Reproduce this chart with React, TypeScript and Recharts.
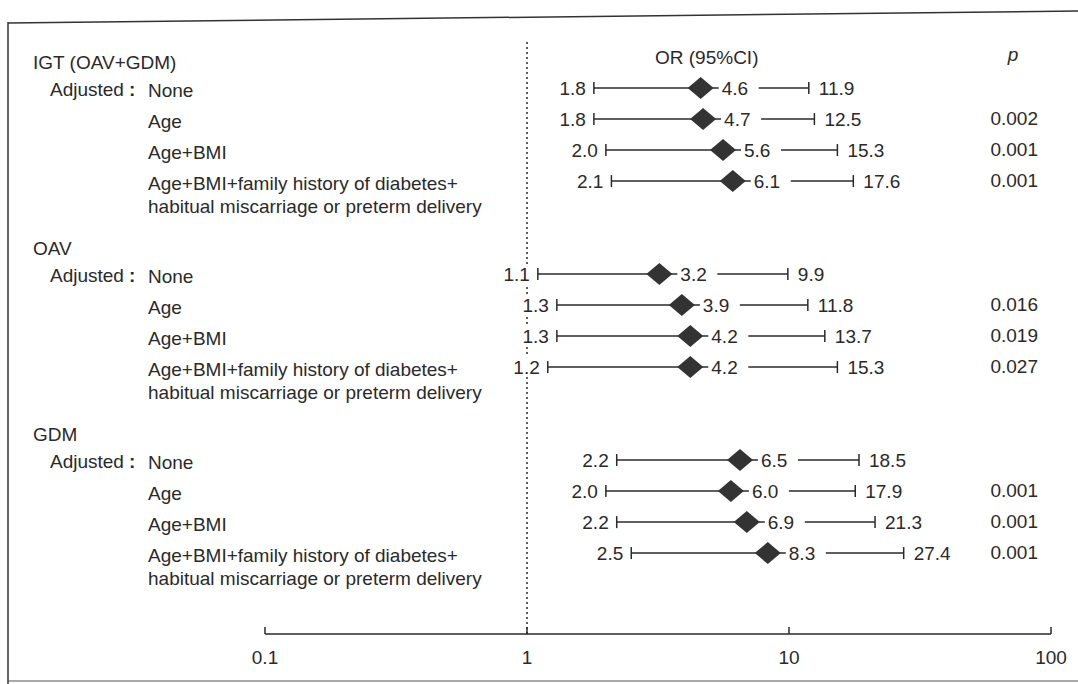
import { ScatterChart, Scatter, XAxis, YAxis, ErrorBar, ReferenceLine } from 'recharts';

const groups = ['IGT (OAV+GDM)', 'OAV', 'GDM'];
const groupFirstRow = [1, 7, 13];
const adjustments = [
  ['None'],
  ['Age'],
  ['Age+BMI'],
  ['Age+BMI+family history of diabetes+', 'habitual miscarriage or preterm delivery'],
];
const oddsRatios = [
  [4.6, 4.7, 5.6, 6.1],
  [3.2, 3.9, 4.2, 4.2],
  [6.5, 6.0, 6.9, 8.3],
];
const ciLower = [
  [1.8, 1.8, 2.0, 2.1],
  [1.1, 1.3, 1.3, 1.2],
  [2.2, 2.0, 2.2, 2.5],
];
const ciUpper = [
  [11.9, 12.5, 15.3, 17.6],
  [9.9, 11.8, 13.7, 15.3],
  [18.5, 17.9, 21.3, 27.4],
];
const pValues = [
  ['', '0.002', '0.001', '0.001'],
  ['', '0.016', '0.019', '0.027'],
  ['', '0.001', '0.001', '0.001'],
];
const xTicks = [0.1, 1, 10, 100];

const FONT = '"Liberation Sans", Arial, Helvetica, sans-serif';
const INK = '#2a2a2a';

const rows = groups.flatMap((g, gi) =>
  adjustments.map((adj, ai) => ({
    row: groupFirstRow[gi] + ai,
    group: ai === 0 ? g : '',
    adj,
    x: oddsRatios[gi][ai],
    lo: ciLower[gi][ai],
    hi: ciUpper[gi][ai],
    err: [oddsRatios[gi][ai] - ciLower[gi][ai], ciUpper[gi][ai] - oddsRatios[gi][ai]],
    p: pValues[gi][ai],
  }))
);
const loData = rows.map((r) => ({ ...r, x: r.lo }));
const hiData = rows.map((r) => ({ ...r, x: r.hi }));
const rowTicks = rows.map((r) => r.row);

const txt = { fontFamily: FONT, fontSize: 19, fill: INK };

function RowLabel(props: any) {
  const { y, payload } = props;
  const r = rows.find((d) => d.row === payload.value);
  if (!r) return null;
  const first = r.row === 1;
  return (
    <g>
      {first && (
        <>
          <text x={655} y={64} {...txt}>OR (95%CI)</text>
          <text x={1013} y={61} {...txt} fontStyle="italic" textAnchor="middle">p</text>
        </>
      )}
      {r.group && (
        <>
          <text x={33} y={y - 19} {...txt}>{r.group}</text>
          <text x={50} y={y + 8} {...txt}>Adjusted</text>
          <text x={129} y={y + 8} {...txt} fontWeight="bold">:</text>
        </>
      )}
      {r.adj.map((line, i) => (
        <text key={i} x={148} y={y + 9 + i * 23} {...txt}>{line}</text>
      ))}
      {r.p && (
        <text x={1038} y={y + 6} {...txt} textAnchor="end">{r.p}</text>
      )}
    </g>
  );
}

function AxisTick(props: any) {
  const { x, y, payload } = props;
  return (
    <g>
      <line x1={x} y1={y} x2={x} y2={y - 7} stroke={INK} strokeWidth={1.5} />
      <text x={x} y={y + 30} {...txt} textAnchor="middle">{payload.value}</text>
    </g>
  );
}

function OrMark(props: any) {
  const { cx, cy, payload } = props;
  return (
    <g>
      <rect x={cx + 18} y={cy - 10} width={40} height={20} fill="#fff" />
      <path d={`M${cx - 13},${cy} L${cx},${cy - 11} L${cx + 13},${cy} L${cx},${cy + 11} Z`} fill="#333" />
      <text x={cx + 21} y={cy + 7} {...txt}>{payload.x.toFixed(1)}</text>
    </g>
  );
}

function LowLabel(props: any) {
  const { cx, cy, payload } = props;
  return (
    <g>
      <rect x={cx - 40} y={cy - 10} width={34} height={20} fill="#fff" />
      <text x={cx - 8} y={cy + 7} {...txt} textAnchor="end">{payload.lo.toFixed(1)}</text>
    </g>
  );
}

function HighLabel(props: any) {
  const { cx, cy, payload } = props;
  return <text x={cx + 10} y={cy + 7} {...txt}>{payload.hi.toFixed(1)}</text>;
}

export default function App() {
  return (
    <div style={{ position: 'absolute', left: 0, top: 0, width: 1078, height: 684, overflow: 'hidden', background: '#fff' }}>
      <svg width={1078} height={684} style={{ position: 'absolute', left: 0, top: 0 }}>
        <line x1={8} y1={23} x2={1078} y2={11} stroke="#333" strokeWidth={1.5} />
        <line x1={8} y1={22} x2={8} y2={684} stroke="#333" strokeWidth={1.5} />
        <line x1={8} y1={681} x2={1078} y2={681} stroke="#555" strokeWidth={1.2} />
      </svg>
      <div style={{ position: 'absolute', left: 0, top: 0 }}>
        <ScatterChart width={1078} height={684} margin={{ top: 40, right: 27, bottom: 20, left: 0 }}>
          <XAxis
            type="number"
            dataKey="x"
            scale="log"
            domain={[0.1, 100]}
            ticks={xTicks}
            allowDataOverflow
            height={30}
            axisLine={{ stroke: INK, strokeWidth: 1.5 }}
            tickLine={false}
            tickSize={0}
            tickMargin={0}
            tick={<AxisTick />}
          />
          <YAxis
            type="number"
            dataKey="row"
            reversed
            domain={[-0.55, 18.61]}
            ticks={rowTicks}
            width={265}
            axisLine={false}
            tickLine={false}
            tick={<RowLabel />}
          />
          <ReferenceLine x={1} stroke={INK} strokeWidth={1.5} strokeDasharray="2 3" />
          <Scatter data={rows} isAnimationActive={false} shape={() => <g />}>
            <ErrorBar dataKey="err" direction="x" width={6} stroke={INK} strokeWidth={1.5} isAnimationActive={false} />
          </Scatter>
          <Scatter data={loData} isAnimationActive={false} shape={<LowLabel />} />
          <Scatter data={hiData} isAnimationActive={false} shape={<HighLabel />} />
          <Scatter data={rows} isAnimationActive={false} shape={<OrMark />} />
        </ScatterChart>
      </div>
    </div>
  );
}
